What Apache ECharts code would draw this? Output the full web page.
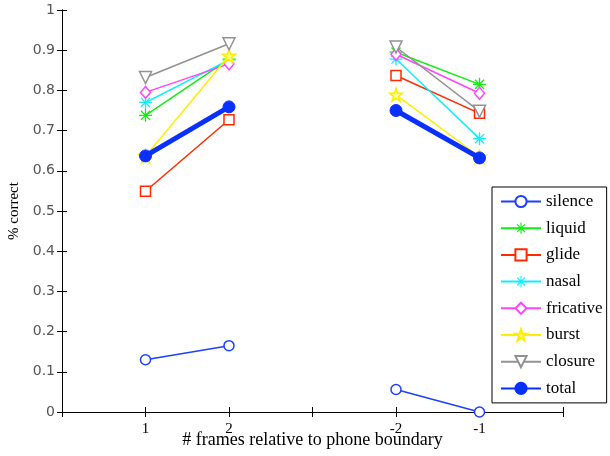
<!DOCTYPE html>
<html>
<head>
<meta charset="utf-8">
<script src="https://cdn.jsdelivr.net/npm/echarts@6/dist/echarts.min.js"></script>
<style>html,body{margin:0;padding:0;background:#fff;}#c{width:610px;height:456px;}</style>
</head>
<body>
<div id="c"></div>
<script>
// x positions on the axis (3 is the gap between the two groups)
var xPositions = [1, 2, 3, 4, 5];
var xTickLabels = ['', '1', '2', '', '-2', '-1', ''];
var yTicks = [0, 0.1, 0.2, 0.3, 0.4, 0.5, 0.6, 0.7, 0.8, 0.9, 1];
var seriesNames = ['silence', 'liquid', 'glide', 'nasal', 'fricative', 'burst', 'closure', 'total'];

var silence   = [0.130, 0.165, null, 0.056, 0.000];
var liquid    = [0.738, 0.878, null, 0.895, 0.815];
var glide     = [0.549, 0.727, null, 0.837, 0.743];
var nasal     = [0.770, 0.876, null, 0.878, 0.680];
var fricative = [0.795, 0.866, null, 0.890, 0.793];
var burst     = [0.636, 0.886, null, 0.789, 0.635];
var closure   = [0.832, 0.916, null, 0.908, 0.748];
var total     = [0.637, 0.759, null, 0.750, 0.632];

var values = [silence, liquid, glide, nasal, fricative, burst, closure, total];

var asterisk = 'path://M-1,-10L1,-10L1,10L-1,10Z M-10,-1L10,-1L10,1L-10,1Z ' +
  'M-6.29,-7.71L7.71,6.29L6.29,7.71L-7.71,-6.29Z M-7.71,6.29L6.29,-7.71L7.71,-6.29L-6.29,7.71Z';
var star = 'path://M0,-10L2.245,-3.09L9.51,-3.09L3.633,1.18L5.88,8.09L0,3.82L-5.88,8.09L-3.633,1.18L-9.51,-3.09L-2.245,-3.09Z';

var styles = [
  {color: '#1f3fff', symbol: 'circle', size: 10, fill: '#fff', bw: 1.5, lw: 1.5},
  {color: '#11ee11', symbol: asterisk, size: 13, fill: '#11ee11', bw: 0, lw: 1.5},
  {color: '#ff2a00', symbol: 'rect', size: 10, fill: '#fff', bw: 1.5, lw: 1.5},
  {color: '#11eeff', symbol: asterisk, size: 13, fill: '#11eeff', bw: 0, lw: 1.5},
  {color: '#ff44ff', symbol: 'diamond', size: [10, 12], fill: '#fff', bw: 1.5, lw: 1.5},
  {color: '#ffee00', symbol: star, size: 13, fill: '#ffff90', bw: 1.5, lw: 1.5},
  {color: '#929292', symbol: 'triangle', size: 12, fill: '#fff', bw: 1.5, lw: 1.5, rot: 180},
  {color: '#0a30ff', symbol: 'circle', size: 12, fill: '#0a30ff', bw: 1, lw: 5}
];

var series = seriesNames.map(function (name, i) {
  var s = styles[i];
  return {
    name: name,
    type: 'line',
    data: xPositions.map(function (x, j) { return [x, values[i][j] === null ? '-' : values[i][j]]; }),
    connectNulls: false,
    symbol: s.symbol,
    symbolSize: s.size,
    symbolRotate: s.rot || 0,
    showAllSymbol: true,
    clip: false,
    lineStyle: {color: s.color, width: s.lw},
    itemStyle: {color: s.fill, borderColor: s.color, borderWidth: s.bw},
    emphasis: {disabled: true},
    z: 2 + i
  };
});

var chart = echarts.init(document.getElementById('c'), null, {renderer: 'canvas'});
chart.setOption({
  animation: false,
  backgroundColor: '#fff',
  grid: {left: 62, top: 10, right: 47, bottom: 44, containLabel: false, outerBoundsMode: 'none'},
  legend: {
    orient: 'vertical',
    left: 492,
    top: 187,
    data: seriesNames,
    itemWidth: 40,
    itemHeight: 14,
    itemGap: 9.7,
    padding: [6, 4, 6, 8],
    backgroundColor: '#fff',
    borderColor: '#000',
    borderWidth: 1,
    borderRadius: 0,
    textStyle: {fontFamily: 'Liberation Serif', fontSize: 17, color: '#000', padding: [0, 0, 0, 0]},
    selectedMode: false
  },
  xAxis: [{
    type: 'value', min: 0, max: 6, interval: 1,
    name: '# frames relative to phone boundary',
    nameLocation: 'middle', nameGap: 19, nameMoveOverlap: false,
    nameTextStyle: {fontFamily: 'Liberation Serif', fontSize: 18, color: '#000'},
    axisLine: {show: true, lineStyle: {color: '#000', width: 1}},
    axisTick: {show: true, inside: true, length: 5, lineStyle: {color: '#000'}},
    axisLabel: {
      margin: 10, fontFamily: 'Liberation Serif', fontSize: 15, color: '#000',
      formatter: function (v) { return xTickLabels[Math.round(v)] || ''; }
    },
    splitLine: {show: false}
  }, {
    type: 'value', min: 0, max: 6, interval: 1, position: 'top',
    axisLine: {show: true, lineStyle: {color: '#000', width: 1}},
    axisTick: {show: true, inside: true, length: 5, lineStyle: {color: '#000'}},
    axisLabel: {show: false},
    splitLine: {show: false}
  }],
  yAxis: [{
    type: 'value', min: yTicks[0], max: yTicks[yTicks.length - 1], interval: 0.1,
    name: '% correct',
    nameLocation: 'middle', nameGap: 40, nameRotate: 90, nameMoveOverlap: false,
    nameTextStyle: {fontFamily: 'Liberation Serif', fontSize: 15, color: '#000'},
    axisLine: {show: true, lineStyle: {color: '#000', width: 1}},
    axisTick: {show: true, inside: true, length: 5, lineStyle: {color: '#000'}},
    axisLabel: {
      margin: 7, fontFamily: 'DejaVu Sans', fontSize: 14, color: '#555',
      formatter: function (v) { return v === 0 ? '0' : (v === 1 ? '1' : v.toFixed(1)); }
    },
    splitLine: {show: false}
  }, {
    type: 'value', min: 0, max: 1, interval: 0.1, position: 'right',
    axisLine: {show: true, lineStyle: {color: '#000', width: 1}},
    axisTick: {show: true, inside: true, length: 5, lineStyle: {color: '#000'}},
    axisLabel: {show: false},
    splitLine: {show: false}
  }],
  series: series
});
</script>
</body>
</html>
